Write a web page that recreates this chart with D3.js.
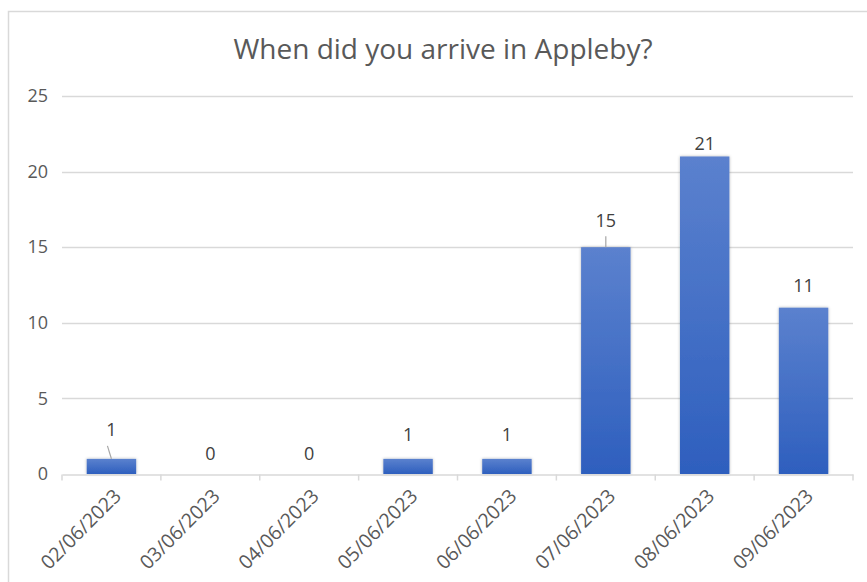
<!DOCTYPE html>
<html><head><meta charset="utf-8">
<script src="https://cdn.jsdelivr.net/npm/d3@7/dist/d3.min.js"></script>
<style>body{margin:0;background:#fff;} svg{display:block;font-family:"Open Sans","Noto Sans",sans-serif;}</style>
</head><body>
<script>
const title = "When did you arrive in Appleby?";
const categories = ["02/06/2023","03/06/2023","04/06/2023","05/06/2023","06/06/2023","07/06/2023","08/06/2023","09/06/2023"];
const values = [1,0,0,1,1,15,21,11];
const yTicks = [0,5,10,15,20,25];

const W = 867, H = 582;
const m = {left:62, right:14, top:96, bottom:108};
const FONT = "'Open Sans','Noto Sans',sans-serif";
const svg = d3.select("body").append("svg").attr("width",W).attr("height",H);

const defs = svg.append("defs");
const g1 = defs.append("linearGradient").attr("id","barg").attr("x1",0).attr("x2",0).attr("y1",0).attr("y2",1);
g1.append("stop").attr("offset","0%").attr("stop-color","#5b81ce");
g1.append("stop").attr("offset","100%").attr("stop-color","#2e5fbe");
const f = defs.append("filter").attr("id","sh").attr("x","-20%").attr("y","-20%").attr("width","140%").attr("height","140%");
f.append("feDropShadow").attr("dx",0).attr("dy",0).attr("stdDeviation",1.5).attr("flood-color","#000").attr("flood-opacity",0.3);

// chart border
svg.append("rect").attr("x",8.5).attr("y",11.5).attr("width",W+20).attr("height",H+20)
  .attr("fill","none").attr("stroke","#d9d9d9").attr("stroke-width",1.5);

const x = d3.scaleBand().domain(categories).range([m.left, W-m.right]).paddingInner(0.5).paddingOuter(0.25);
const y = d3.scaleLinear().domain([0,25]).range([H-m.bottom, m.top]);

svg.append("text").attr("x",443).attr("y",59).attr("text-anchor","middle")
  .attr("font-size",28).attr("fill","#595959").text(title);

// gridlines
svg.append("g").selectAll("line").data(yTicks.filter(d=>d>0)).join("line")
  .attr("x1",m.left).attr("x2",W-m.right)
  .attr("y1",d=>Math.round(y(d))+0.5).attr("y2",d=>Math.round(y(d))+0.5)
  .attr("stroke","#d9d9d9").attr("stroke-width",1.3);

// y axis labels
const ya = svg.append("g").attr("transform",`translate(${m.left},0)`)
  .call(d3.axisLeft(y).tickValues(yTicks).tickSize(0).tickPadding(14));
ya.select(".domain").remove();
ya.selectAll("text").attr("font-size",18).attr("fill","#595959").attr("font-family",FONT);

// bars
svg.append("g").selectAll("rect").data(values).join("rect")
  .attr("x",(d,i)=>x(categories[i])).attr("width",x.bandwidth())
  .attr("y",d=>y(d)).attr("height",d=>y(0)-y(d))
  .attr("fill","url(#barg)").attr("filter","url(#sh)");

// x axis
const xa = svg.append("g").attr("transform",`translate(0,${Math.round(y(0))+0.5})`)
  .call(d3.axisBottom(x).tickSize(0).tickPadding(0));
xa.select(".domain").attr("stroke","#d9d9d9").attr("stroke-width",1.5);
xa.selectAll(".tick text").remove();
const bounds = d3.range(categories.length+1).map(i=>x.range()[0] + i*x.step());
xa.selectAll("line.bt").data(bounds).join("line").attr("class","bt")
  .attr("x1",d=>d).attr("x2",d=>d).attr("y1",0).attr("y2",6)
  .attr("stroke","#d9d9d9").attr("stroke-width",1.5);
xa.selectAll("text.lab").data(categories).join("text").attr("class","lab")
  .attr("transform",d=>`translate(${x(d)+x.bandwidth()/2+6},${18}) rotate(-45)`)
  .attr("text-anchor","end").attr("dy","0.35em").attr("font-family",FONT)
  .attr("font-size",19.5).attr("fill","#595959").text(d=>d);

// data labels (offsets above bar top)
const labelOffsets = [23, 14, 14, 18, 18, 20, 6, 16];
const lbl = svg.append("g");
values.forEach((v,i)=>{
  const cx = x(categories[i])+x.bandwidth()/2;
  const ty = y(v)-labelOffsets[i];
  lbl.append("text").attr("x",cx).attr("y",ty).attr("text-anchor","middle")
    .attr("font-size",18).attr("fill","#404040").text(v);
  if (i===0 || i===5){
    const dx = i===0 ? -4 : 0;
    lbl.append("line").attr("x1",cx+dx).attr("y1",ty+(i===0?10:9)).attr("x2",cx).attr("y2",y(v))
      .attr("stroke","#a6a6a6").attr("stroke-width",1.2);
  }
});
</script>
</body></html>
